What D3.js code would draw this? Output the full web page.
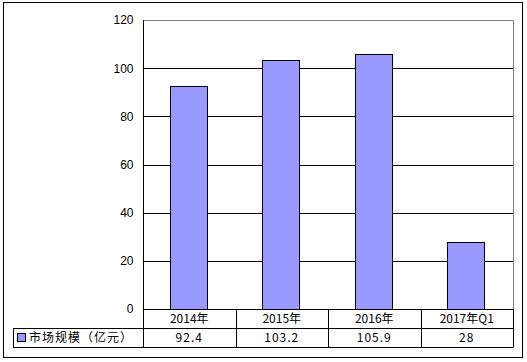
<!DOCTYPE html>
<html>
<head>
<meta charset="utf-8">
<script src="https://cdn.jsdelivr.net/npm/d3@7"></script>
<style>
body { margin: 0; background: #fff; }
svg text { font-family: "Noto Sans CJK SC", "DejaVu Sans", sans-serif; }
</style>
</head>
<body>
<div id="chart"></div>
<script>
// data
var categories = ["2014年", "2015年", "2016年", "2017年Q1"];
var values = [92.4, 103.2, 105.9, 28];
var valueLabels = ["92.4", "103.2", "105.9", "28"];
var seriesName = "市场规模（亿元）";
var yTicks = [0, 20, 40, 60, 80, 100, 120];

var width = 527, height = 362;
var margin = {top: 20, right: 14, bottom: 53, left: 143};
var plotW = width - margin.left - margin.right;
var plotH = height - margin.top - margin.bottom;
var rowH = 19;
var barColor = "#9999ff";

var svg = d3.select("#chart").append("svg")
    .attr("width", width)
    .attr("height", height);

// outer frame
svg.append("rect")
    .attr("x", 3.5).attr("y", 2.5)
    .attr("width", 519).attr("height", 355)
    .attr("fill", "none")
    .attr("stroke", "#000");

var g = svg.append("g")
    .attr("transform", "translate(" + margin.left + "," + margin.top + ")");

var x = d3.scaleBand()
    .domain(categories)
    .range([0, plotW])
    .paddingInner(0)
    .paddingOuter(0);

var y = d3.scaleLinear()
    .domain([0, 120])
    .range([plotH, 0]);

// gridlines
g.append("g").selectAll("line")
    .data(yTicks.filter(function (d) { return d > 0 && d < 120; }))
    .enter().append("line")
    .attr("x1", 0).attr("x2", plotW)
    .attr("y1", function (d) { return Math.round(y(d)) + 0.5; })
    .attr("y2", function (d) { return Math.round(y(d)) + 0.5; })
    .attr("stroke", "#000");

// plot border top / right in gray
g.append("path")
    .attr("d", "M0," + (Math.round(y(120)) + 0.5) + "H" + (plotW + 0.5) + "V" + (plotH))
    .attr("fill", "none")
    .attr("stroke", "#808080");

// bars
var barW = x.bandwidth() * 0.4;
g.append("g").selectAll("rect")
    .data(values)
    .enter().append("rect")
    .attr("x", function (d, i) { return Math.round(x(categories[i]) + (x.bandwidth() - barW) / 2) - 0.5; })
    .attr("y", function (d) { return Math.round(y(d)) + 0.5; })
    .attr("width", Math.round(barW))
    .attr("height", function (d) { return Math.round(y(0)) - Math.round(y(d)); })
    .attr("fill", barColor)
    .attr("stroke", "#000");

// y axis
var yAxis = d3.axisLeft(y).tickValues(yTicks).tickSize(0).tickPadding(10);
var ya = g.append("g").attr("transform", "translate(0.5,0)").call(yAxis);
ya.select(".domain").remove();
ya.selectAll("text").style("font-family", "Arial, 'Liberation Sans', sans-serif")
    .style("font-size", "12px").attr("fill", "#000");
g.append("line")
    .attr("x1", 0.5).attr("x2", 0.5)
    .attr("y1", y(120)).attr("y2", plotH + rowH * 2)
    .attr("stroke", "#000");

// data table
var tableTop = plotH;
var tableLeft = 13 - margin.left;
g.append("line")
    .attr("x1", 0).attr("x2", plotW)
    .attr("y1", Math.round(tableTop) + 0.5).attr("y2", Math.round(tableTop) + 0.5)
    .attr("stroke", "#000");
[1, 2].forEach(function (k) {
    var yy = Math.round(tableTop + rowH * k) + 0.5;
    g.append("line")
        .attr("x1", tableLeft).attr("x2", plotW + 0.5)
        .attr("y1", yy).attr("y2", yy)
        .attr("stroke", "#000");
});
g.append("line")
    .attr("x1", tableLeft + 0.5).attr("x2", tableLeft + 0.5)
    .attr("y1", tableTop + rowH).attr("y2", tableTop + rowH * 2)
    .attr("stroke", "#000");
g.selectAll(".sep")
    .data(categories)
    .enter().append("line")
    .attr("class", "sep")
    .attr("x1", function (d) { return Math.round(x(d) + x.bandwidth()) + 0.5; })
    .attr("x2", function (d) { return Math.round(x(d) + x.bandwidth()) + 0.5; })
    .attr("y1", tableTop).attr("y2", tableTop + rowH * 2)
    .attr("stroke", "#000");

g.selectAll(".cat")
    .data(categories)
    .enter().append("text")
    .attr("class", "cat")
    .attr("x", function (d) { return x(d) + x.bandwidth() / 2; })
    .attr("y", tableTop + rowH / 2 + 4)
    .attr("text-anchor", "middle")
    .style("font-size", "12px")
    .text(function (d) { return d; });

g.selectAll(".val")
    .data(valueLabels)
    .enter().append("text")
    .attr("class", "val")
    .attr("x", function (d, i) { return x(categories[i]) + x.bandwidth() / 2; })
    .attr("y", tableTop + rowH * 1.5 + 4)
    .attr("text-anchor", "middle")
    .style("font-size", "12px")
    .style("letter-spacing", "1px")
    .text(function (d) { return d; });

// legend key
g.append("rect")
    .attr("x", tableLeft + 4.5).attr("y", tableTop + rowH + 5.5)
    .attr("width", 8).attr("height", 8)
    .attr("fill", barColor)
    .attr("stroke", "#000");
g.append("text")
    .attr("x", tableLeft + 16).attr("y", tableTop + rowH * 1.5 + 4)
    .style("font-size", "12px")
    .style("letter-spacing", "1px")
    .text(seriesName);
</script>
</body>
</html>
